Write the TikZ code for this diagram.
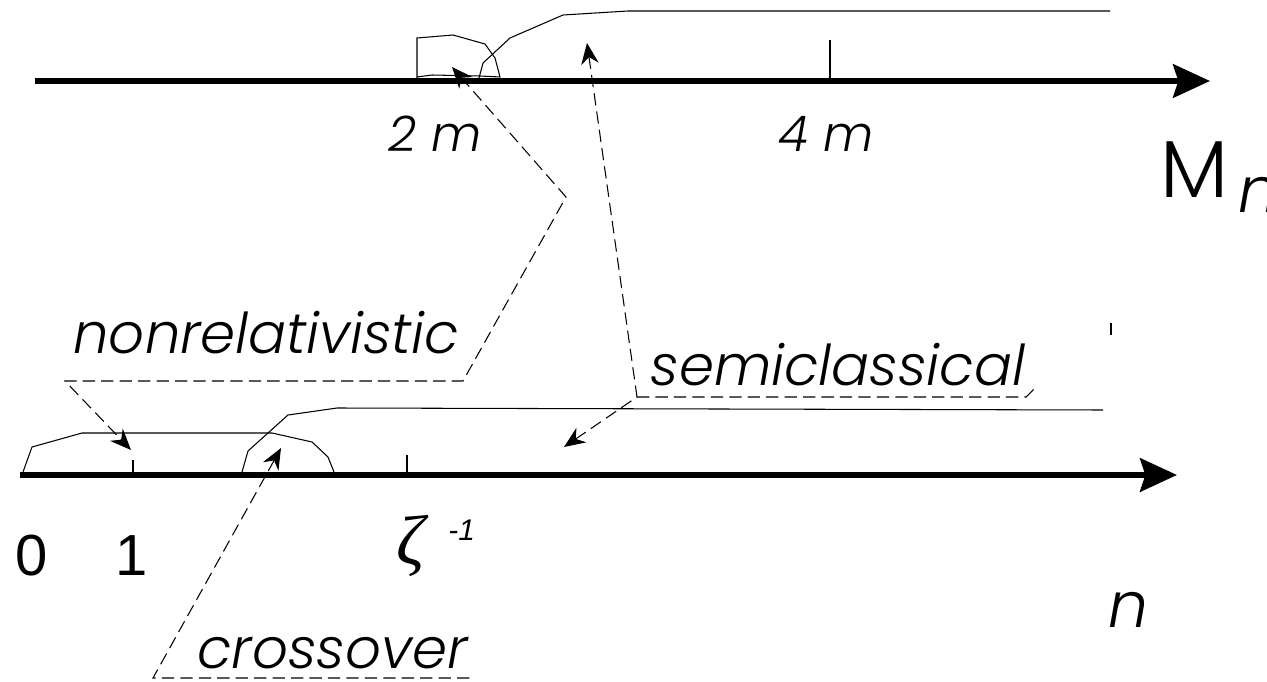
\documentclass[tikz,border=0pt]{standalone}
\usepackage{fontspec}
\setmainfont{Poppins}[UprightFont={* Light},ItalicFont={* Light Italic}]
\newfontfamily\arialfont{Liberation Sans}
\newfontfamily\greekfont{Liberation Serif}
\usetikzlibrary{arrows.meta}

\begin{document}
\begin{tikzpicture}[x=0.02cm,y=-0.02cm,
  axis/.style={line width=3.4pt,-{Stealth[length=21pt,width=19pt,inset=3pt]}},
  region/.style={line width=0.6pt},
  guide/.style={line width=0.6pt,dash pattern=on 7pt off 3.5pt},
  tip/.style={{Stealth[length=12pt,width=10pt]}-},
  tips/.style={{Stealth[length=12pt,width=10pt]}-{Stealth[length=12pt,width=10pt]}},
  lab/.style={font=\fontsize{32}{32}\selectfont\itshape,inner sep=0pt,anchor=base west},
  tick/.style={font=\fontsize{28}{28}\selectfont\itshape,inner sep=0pt,anchor=base west},
  big/.style={font=\fontsize{36}{36}\selectfont\itshape,inner sep=0pt,anchor=base west},
  num/.style={font=\arialfont\fontsize{33}{33}\selectfont,inner sep=0pt,anchor=base west}]
  \useasboundingbox (0,0) rectangle (1267,682);
  % axes
  \draw[axis] (35,81) -- (1210,81);
  \draw[axis] (20,475) -- (1177,475);
  \draw[region] (830,40) -- (830,79);
  \foreach \x/\y in {133/460,407/455}
    \draw[region] (\x,\y) -- (\x,473);
  \draw[region] (1111,323) -- (1111,335);
  % regions on the upper axis
  \draw[region] (417,78) -- (417,38) -- (453,35) -- (485,44) -- (495,58) -- (500,77)
    -- (480,76) -- (432,75) -- (417,77);
  \draw[region] (479,78) -- (483,63) -- (510,38) -- (563,15) -- (628,11) -- (1110,11);
  % regions on the lower axis
  \draw[region] (23,472) -- (32,447) -- (82,433) -- (272,433) -- (312,442) -- (328,457) -- (334,472);
  \draw[region] (242,472) -- (248,451) -- (288,415) -- (337,408) -- (1103,410);
  % labels
  \node[tick] (twom) at (388,152) {2 m};
  \node[tick] (fourm) at (778,152) {4 m};
  \node[big,font=\fontsize{46}{46}\selectfont] (Mlab) at (1160,197) {M};
  \node[big] (Msub) at (1238,213) {n};
  \node[big] (nlab) at (1108,627) {n};
  \node[num] (zero) at (15,575) {0};
  \node[num] (one) at (115,575) {1};
  \node[inner sep=0pt,anchor=base west,font=\greekfont\fontsize{40}{40}\selectfont\itshape] (zeta) at (396,564) {ζ};
  \node[inner sep=0pt,anchor=base west,font=\arialfont\fontsize{17}{17}\selectfont\itshape] (zexp) at (448,540) {-1};
  \node[lab] (nonrel) at (73,353) {nonrelativistic};
  \node[lab] (semicl) at (650,385) {semiclassical};
  \node[lab] (cross) at (197,668) {crossover};
  % leaders
  \coordinate (nrT) at (452,67);
  \coordinate (nrK) at (566,197);
  \coordinate (nrR) at (463,381);
  \coordinate (nrL) at (65,381);
  \coordinate (nrB) at (131,450);
  \draw[guide,tips] (nrT) -- (nrK) -- (nrR) -- (nrL) -- (nrB);
  \coordinate (scT) at (587,43);
  \coordinate (scK) at (637,397);
  \coordinate (scR) at (1026,397);
  \coordinate (scE) at (1034,389);
  \coordinate (scB) at (564,447);
  \draw[guide,tips] (scT) -- (scK) -- (scB);
  \draw[guide] (scK) -- (scR) -- (scE);
  \coordinate (crT) at (281,448);
  \coordinate (crL) at (153,678);
  \coordinate (crR) at (473,678);
  \draw[guide,tip] (crT) -- (crL) -- (crR);
\end{tikzpicture}
\end{document}
